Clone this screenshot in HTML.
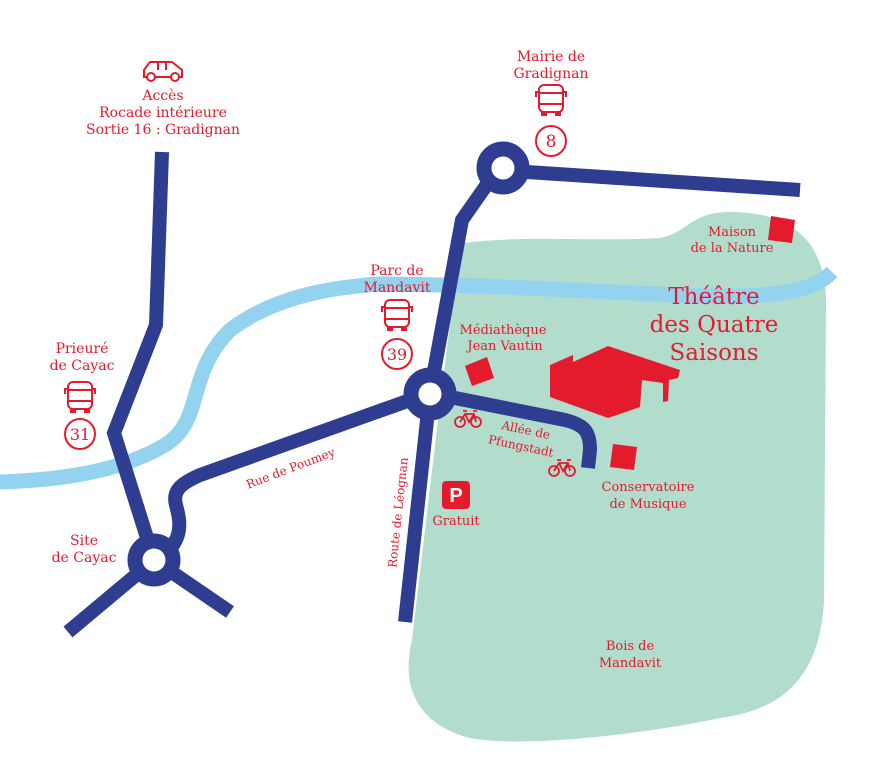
<!DOCTYPE html>
<html><head><meta charset="utf-8"><style>
body{margin:0;background:#fff}
svg{display:block}
text{font-family:"DejaVu Serif","Liberation Serif",serif;fill:#e31b2d;font-size:13px;text-anchor:middle}
</style></head><body>
<svg width="890" height="782" viewBox="0 0 890 782" xmlns="http://www.w3.org/2000/svg">
<defs>
<g id="bus" fill="none" stroke="#e31b2d" stroke-width="2">
<rect x="-12" y="-15" width="24" height="27" rx="5"/>
<line x1="-12" y1="-7" x2="12" y2="-7"/><line x1="-12" y1="4" x2="12" y2="4"/>
<path d="M-12 -8 h-3 v5 M12 -8 h3 v5"/>
<rect x="-9" y="12" width="4" height="3" fill="#e31b2d"/><rect x="5" y="12" width="4" height="3" fill="#e31b2d"/>
</g>
<g id="bike" fill="none" stroke="#e31b2d" stroke-width="1.8">
<circle cx="-8" cy="4" r="5"/><circle cx="8" cy="4" r="5"/>
<path d="M-8 4 L-3 -4 H6 L8 4 M-3 -4 L1 4 L6 -4 M-5 -7 h4 M5 -7 h4"/>
</g>
</defs>
<path d="M465 243 C520 235 600 242 660 238 C690 232 690 212 730 212 C790 212 825 240 826 300 L824 600 C820 680 780 710 720 718 C640 735 520 748 470 738 C420 725 400 690 412 640 L438 420 L458 260 Z" fill="#b2dccc"/>
<path d="M0 482 C60 480 120 472 165 445 C205 420 185 375 230 330 C270 300 320 288 380 284 C500 285 600 292 700 296 C780 298 815 290 832 272" fill="none" stroke="#93d3ef" stroke-width="15"/>
<g fill="none" stroke="#2e3d8f" stroke-width="14" stroke-linejoin="miter">
<path d="M162 152 L156 325 L114 433 L154 560"/>
<path d="M68 632 L154 560 L230 612"/>
<path d="M160 558 C185 540 180 520 176 505 C172 490 182 483 200 475 L430 393"/>
<path d="M430 393 L405 622"/>
<path d="M430 393 L462 220 L497 170"/>
<path d="M497 170 L800 190"/>
<path d="M430 393 L565 420 C585 425 590 432 590 450 L588 468"/>
</g>
<circle cx="154" cy="560" r="19" fill="#fff" stroke="#2e3d8f" stroke-width="15"/>
<circle cx="430" cy="394" r="19" fill="#fff" stroke="#2e3d8f" stroke-width="15"/>
<circle cx="503" cy="168" r="19" fill="#fff" stroke="#2e3d8f" stroke-width="15"/>
<polygon points="465,366 487,357 494,378 472,386" fill="#e31b2d"/>
<polygon points="613,444 637,447 634,470 610,467" fill="#e31b2d"/>
<polygon points="771,216 795,220 792,243 768,240" fill="#e31b2d"/>
<polygon points="550,365 573,355 573,362 608,346 680,370 678,378 669,380 668,401 663,402 663,383 642,380 640,407 608,418 550,397" fill="#e31b2d"/>
<rect x="442" y="481" width="28" height="28" rx="4" fill="#e31b2d"/>
<text x="456" y="502" style="fill:#fff;font-family:'Liberation Sans',sans-serif;font-weight:bold;font-size:20px">P</text>
<g fill="none" stroke="#e31b2d" stroke-width="2">
<path d="M144 77 V70 L150 62 H172 L182 70 V77 Z"/><circle cx="151" cy="77" r="4" fill="#fff"/><circle cx="175" cy="77" r="4" fill="#fff"/>
<line x1="158" y1="62" x2="158" y2="70"/><line x1="166" y1="62" x2="166" y2="70"/>
<circle cx="551" cy="141" r="15"/><circle cx="397" cy="354" r="15"/><circle cx="80" cy="434" r="15"/>
</g>
<use href="#bus" x="551" y="100"/>
<use href="#bus" x="397" y="315"/>
<use href="#bus" x="80" y="397"/>
<use href="#bike" x="468" y="418"/>
<use href="#bike" x="562" y="467"/>
<text x="551" y="147" style="font-size:17px">8</text>
<text x="397" y="360" style="font-size:16px">39</text>
<text x="80" y="440" style="font-size:16px">31</text>
<text x="163" y="100" style="font-size:14px">Accès</text>
<text x="163" y="117" style="font-size:14px">Rocade intérieure</text>
<text x="163" y="134" style="font-size:14px">Sortie 16 : Gradignan</text>
<text x="551" y="61" style="font-size:14px">Mairie de</text>
<text x="551" y="78" style="font-size:14px">Gradignan</text>
<text x="397" y="275" style="font-size:14px">Parc de</text>
<text x="397" y="292" style="font-size:14px">Mandavit</text>
<text x="82" y="353" style="font-size:14px">Prieuré</text>
<text x="82" y="370" style="font-size:14px">de Cayac</text>
<text x="84" y="545" style="font-size:14px">Site</text>
<text x="84" y="562" style="font-size:14px">de Cayac</text>
<text x="503" y="334">Médiathèque</text>
<text x="505" y="350">Jean Vautin</text>
<text x="732" y="236">Maison</text>
<text x="732" y="252">de la Nature</text>
<text x="714" y="304" style="font-size:23px">Théâtre</text>
<text x="714" y="332" style="font-size:23px">des Quatre</text>
<text x="714" y="360" style="font-size:23px">Saisons</text>
<text x="648" y="491">Conservatoire</text>
<text x="648" y="508">de Musique</text>
<text x="456" y="525">Gratuit</text>
<text x="630" y="650">Bois de</text>
<text x="630" y="667">Mandavit</text>
<text transform="translate(292,472) rotate(-21)" style="font-size:12px">Rue de Poumey</text>
<text transform="translate(402,513) rotate(-84)" style="font-size:12px">Route de Léognan</text>
<text transform="translate(525,434) rotate(12)" style="font-size:12px">Allée de</text>
<text transform="translate(520,450) rotate(12)" style="font-size:12px">Pfungstadt</text>
</svg>
</body></html>
